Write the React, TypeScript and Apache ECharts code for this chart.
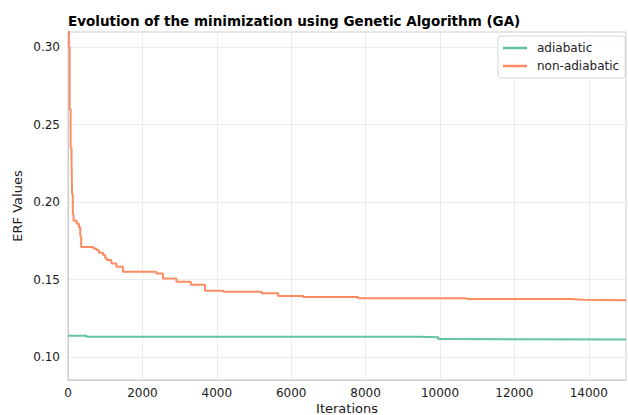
import React, { useEffect, useRef } from "react";
import * as echarts from "echarts";

const titleText = "Evolution of the minimization using Genetic Algorithm (GA)";
const xTicks = [0, 2000, 4000, 6000, 8000, 10000, 12000, 14000];
const yTicks = [0.1, 0.15, 0.2, 0.25, 0.3];

const adiabaticIter = [0, 500, 9460, 9950, 10180, 15000];
const adiabaticVal = [0.1137, 0.1131, 0.1127, 0.1116, 0.1114, 0.1114];

const nonAdiabaticIter = [
  0, 25, 45, 70, 95, 110, 130, 150, 234, 296, 330, 355, 683, 760, 830, 941, 1000,
  1048, 1167, 1301, 1478, 2376, 2554, 2914, 3300, 3683, 4175, 5206, 5650, 6320,
  7800, 10720, 13500, 13850, 15000,
];
const nonAdiabaticVal = [
  0.4, 0.3, 0.26, 0.235, 0.226, 0.205, 0.192, 0.188, 0.186, 0.1836, 0.178, 0.171,
  0.17, 0.169, 0.1673, 0.1658, 0.1637, 0.1626, 0.1604, 0.1582, 0.155, 0.1539,
  0.1507, 0.1486, 0.1467, 0.1428, 0.1421, 0.1411, 0.1394, 0.1387, 0.1379, 0.1374,
  0.137, 0.1366, 0.1366,
];

const FONT = "DejaVu Sans";

export default function App() {
  const ref = useRef<HTMLDivElement>(null);
  useEffect(() => {
    if (!ref.current) return;
    const chart = echarts.init(ref.current, null, { renderer: "svg" });
    chart.setOption({
      animation: false,
      backgroundColor: "#ffffff",
      title: {
        text: titleText,
        left: 63,
        top: 9,
        textStyle: { fontFamily: FONT, fontSize: 13.5, fontWeight: "bold", color: "#000" },
      },
      legend: {
        orient: "vertical",
        left: 498,
        top: 36,
        padding: [5, 6, 5, 5],
        itemGap: 4,
        itemWidth: 24,
        itemHeight: 2.5,
        icon: "rect",
        borderColor: "#d6d6d6",
        borderWidth: 1,
        borderRadius: 3,
        backgroundColor: "rgba(255,255,255,0.85)",
        textStyle: { fontFamily: FONT, fontSize: 12, color: "#222", padding: [0, 0, 0, 5], lineHeight: 14 },
        data: ["adiabatic", "non-adiabatic"],
      },
      grid: {
        left: 68,
        right: 2,
        top: 32,
        bottom: 35,
        show: true,
        borderColor: "#cccccc",
        borderWidth: 1,
        containLabel: false,
        outerBoundsMode: "none",
      },
      xAxis: {
        type: "value",
        min: 0,
        max: 15000,
        name: "Iterations",
        nameLocation: "middle",
        nameGap: 21,
        nameMoveOverlap: false,
        nameTextStyle: { fontFamily: FONT, fontSize: 13, color: "#1a1a1a", lineHeight: 14 },
        axisLine: { show: true, lineStyle: { color: "#cccccc" } },
        axisTick: { show: false, customValues: xTicks },
        axisLabel: {
          customValues: xTicks,
          fontFamily: FONT,
          fontSize: 12,
          color: "#1a1a1a",
          margin: 7,
          formatter: (v: number) => String(Math.round(v)),
        },
        splitLine: { show: true, lineStyle: { color: "#ebebeb" } },
      },
      yAxis: {
        type: "value",
        min: 0.0852,
        max: 0.3097,
        name: "ERF Values",
        nameLocation: "middle",
        nameGap: 44,
        nameMoveOverlap: false,
        nameTextStyle: { fontFamily: FONT, fontSize: 13, color: "#1a1a1a" },
        axisLine: { show: true, lineStyle: { color: "#cccccc" } },
        axisTick: { show: false, customValues: yTicks },
        axisLabel: {
          customValues: yTicks,
          fontFamily: FONT,
          fontSize: 12,
          color: "#1a1a1a",
          margin: 8,
          formatter: (v: number) => v.toFixed(2),
        },
        splitLine: { show: true, lineStyle: { color: "#ebebeb" } },
      },
      series: [
        {
          name: "adiabatic",
          type: "line",
          step: "end",
          symbol: "none",
          color: "#66c2a5",
          lineStyle: { width: 2, color: "#66c2a5" },
          data: adiabaticIter.map((x, i) => [x, adiabaticVal[i]]),
        },
        {
          name: "non-adiabatic",
          type: "line",
          step: "end",
          symbol: "none",
          color: "#fc8d62",
          clip: true,
          lineStyle: { width: 2, color: "#fc8d62" },
          data: nonAdiabaticIter.map((x, i) => [x, nonAdiabaticVal[i]]),
        },
      ],
    });
    return () => chart.dispose();
  }, []);
  return (
    <div
      ref={ref}
      style={{ position: "fixed", left: 0, top: 0, width: 628, height: 415 }}
    />
  );
}
